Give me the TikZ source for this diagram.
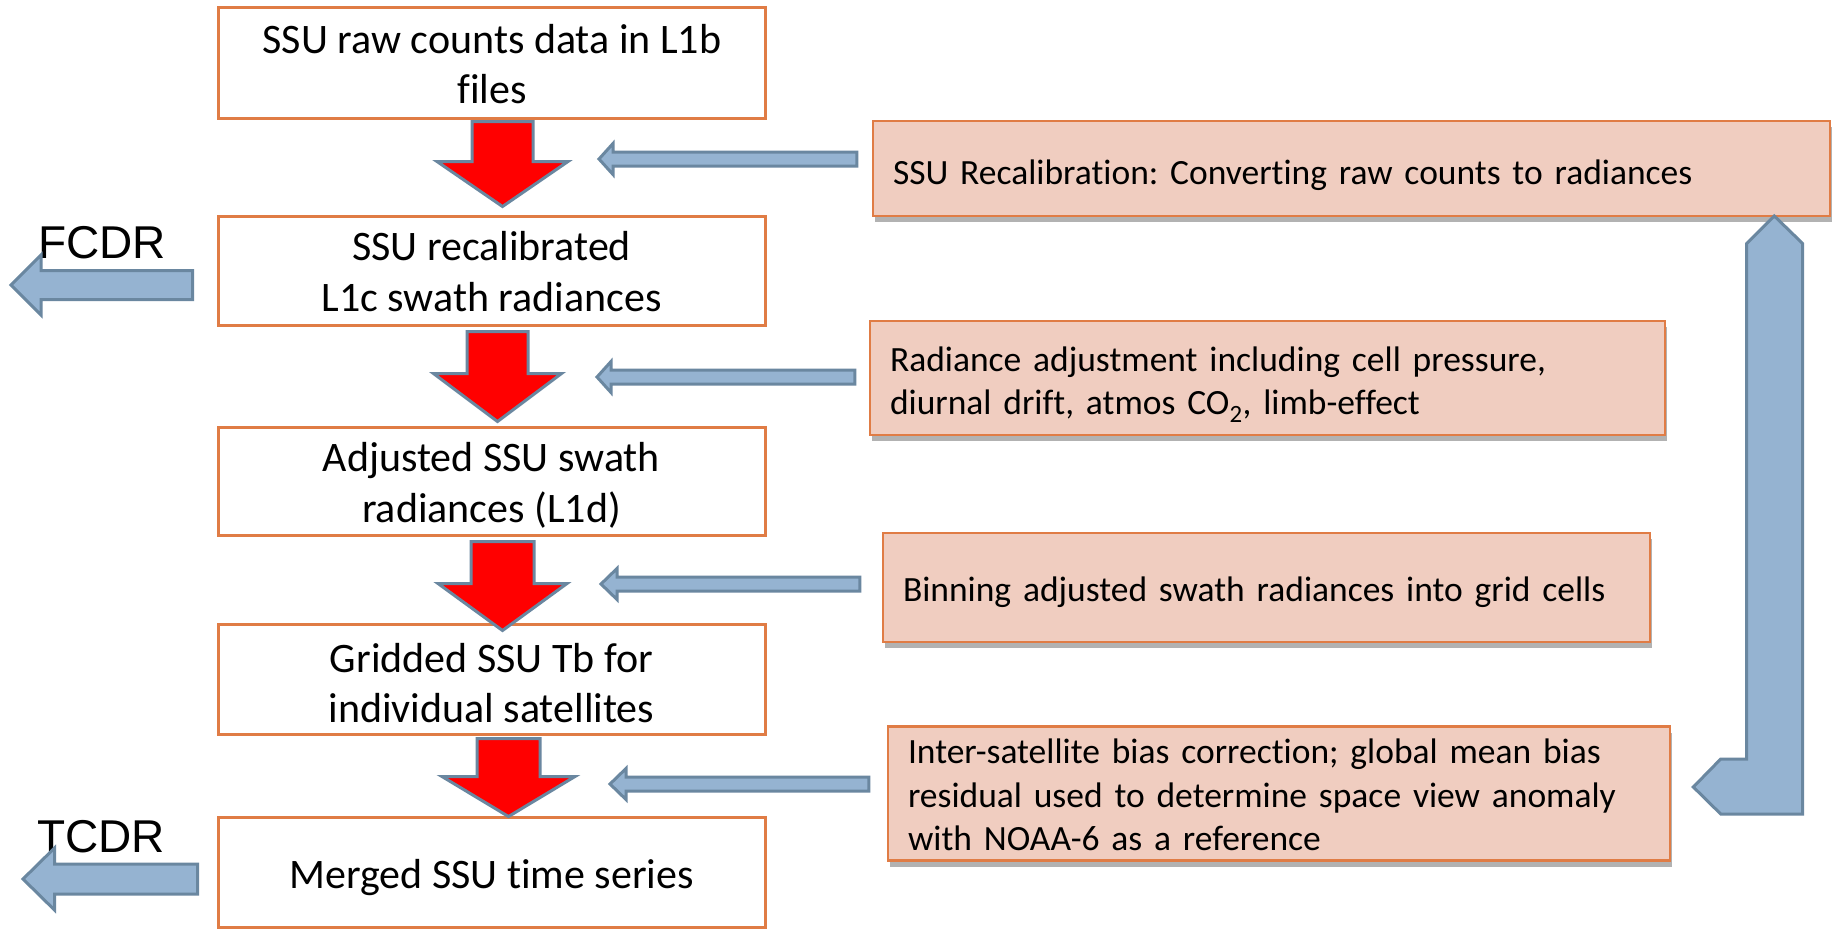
\documentclass[tikz,border=0pt]{standalone}
\usepackage{fontspec}
\setmainfont{Carlito}[Ligatures=NoCommon]
\newfontfamily\labelfont{Liberation Sans}
\usetikzlibrary{calc,shadows}
\frenchspacing

\definecolor{boxorange}{RGB}{224,124,69}
\definecolor{notepink}{RGB}{240,205,192}
\definecolor{arrowblue}{RGB}{149,179,209}
\definecolor{arrowedge}{RGB}{106,135,160}
\definecolor{flowred}{RGB}{255,0,0}

% invisible struts fixing the height of a first line and the depth of a last line
\newcommand\hstrut[1]{\rule{0pt}{#1pt}}
\newcommand\dstrut[1]{\rule[-#1pt]{0pt}{#1pt}}

\tikzset{
  stage/.style={draw=boxorange, line width=3pt, fill=white, minimum width=547pt,
    align=center, inner sep=0pt, font=\fontsize{42}{50.5}\selectfont},
  note/.style={draw=boxorange, line width=2.5pt, fill=notepink, align=left,
    inner xsep=20pt, inner ysep=0pt, font=\fontsize{35.5}{43.5}\selectfont,
    drop shadow={shadow xshift=2pt, shadow yshift=-6pt, fill=black, opacity=0.3}},
  flowarrow/.style={fill=flowred, draw=arrowedge, line width=3pt, line join=miter},
  feedarrow/.style={fill=arrowblue, draw=arrowedge, line width=3pt, line join=miter},
  outlabel/.style={font=\labelfont\fontsize{46}{46}\selectfont, inner sep=0pt, anchor=base west},
}

% block arrow pointing down: top centre, tip, shaft half width, head half width, head length
\newcommand\downblock[5]{%
  \filldraw[flowarrow] ($(#1)+(-#3,0)$) -- ($(#1)+(#3,0)$) -- ($(#2)+(#3,-#5)$)
    -- ($(#2)+(#4,-#5)$) -- (#2) -- ($(#2)+(-#4,-#5)$) -- ($(#2)+(-#3,-#5)$) -- cycle;}
% block arrow pointing left: tail centre, tip, shaft half height, head half height, head length
\newcommand\leftblock[5]{%
  \filldraw[feedarrow] ($(#1)+(0,-#3)$) -- ($(#2)+(#5,-#3)$) -- ($(#2)+(#5,-#4)$)
    -- (#2) -- ($(#2)+(#5,#4)$) -- ($(#2)+(#5,#3)$) -- ($(#1)+(0,#3)$) -- cycle;}

\begin{document}
\begin{tikzpicture}[x=1pt,y=-1pt]
\useasboundingbox[fill=white] (0,0) rectangle (1843,930);

% processing chain
\node[stage, minimum height=110.5pt] (b1) at (492,62.75)
  {\hstrut{41.4}SSU raw counts data in L1b\\files\dstrut{10}};
\node[stage, minimum height=109pt] (b2) at (491.5,270.5)
  {\hstrut{41.1}SSU recalibrated\\L1c swath radiances\dstrut{10}};
\node[stage, minimum height=108pt] (b3) at (491.5,481)
  {\hstrut{41.5}Adjusted SSU swath\\radiances (L1d)\dstrut{10}};
\node[stage, minimum height=110pt] (b4) at (491.5,679)
  {\hstrut{46.9}Gridded SSU Tb for\\individual satellites\dstrut{10}};
\node[stage, minimum height=110pt] (b5) at (491.5,872)
  {\hstrut{46.4}Merged SSU time series\dstrut{14}};

% processing steps
\node[note, minimum width=957pt, minimum height=95pt, text width=917pt] (p1) at (1351.5,168.5)
  {\hstrut{41}SSU Recalibration: Converting raw counts to radiances\dstrut{10}};
\node[note, minimum width=795pt, minimum height=114pt, text width=755pt] (p2) at (1267.5,378)
  {\hstrut{39.5}Radiance adjustment including cell pressure,\\diurnal drift, atmos CO\textsubscript{2}, limb-effect\dstrut{10}};
\node[note, minimum width=767pt, minimum height=109pt, text width=727pt] (p3) at (1266.5,587.5)
  {\hstrut{37.5}Binning adjusted swath radiances into grid cells\dstrut{10}};
\node[note, minimum width=782pt, minimum height=131pt, text width=742pt] (p4) at (1279,793.5)
  {\hstrut{37}Inter-satellite bias correction; global mean bias\\residual used to determine space view anomaly\\with NOAA-6 as a reference\dstrut{10}};

% data record labels
\node[outlabel] (fcdr) at (38,258) {FCDR};
\node[outlabel] (tcdr) at (37,852) {TCDR};

% arrows between the stages
\coordinate (r1a) at ($(b1.south)+(10.5,2)$);  \coordinate (r1b) at ($(b2.north)+(11,-8)$);
\coordinate (r2a) at ($(b2.south)+(6,5)$);     \coordinate (r2b) at ($(b3.north)+(6,-4)$);
\coordinate (r3a) at ($(b3.south)+(11,5)$);    \coordinate (r3b) at ($(b4.north)+(11,8)$);
\coordinate (r4a) at ($(b4.south)+(17,3)$);    \coordinate (r4b) at ($(b5.north)+(17,1)$);
\downblock{r1a}{r1b}{30.5}{65.5}{45}
\downblock{r2a}{r2b}{30.5}{64}{48}
\downblock{r3a}{r3b}{31.5}{64.5}{47}
\downblock{r4a}{r4b}{31.5}{66.5}{40}

% arrows from the steps into the chain
\coordinate (s1a) at ($(p1.west)+(-15,-9.5)$); \coordinate (s1b) at (599,159);
\coordinate (s2a) at ($(p2.west)+(-14,-1)$);   \coordinate (s2b) at (597,377);
\coordinate (s3a) at ($(p3.west)+(-22,-3.5)$); \coordinate (s3b) at (601,584);
\coordinate (s4a) at ($(p4.west)+(-18,-9.5)$); \coordinate (s4b) at (610,784);
\leftblock{s1a}{s1b}{7}{15.5}{14}
\leftblock{s2a}{s2b}{7}{15.5}{14}
\leftblock{s3a}{s3b}{7}{15.5}{16}
\leftblock{s4a}{s4b}{7}{15.5}{16}

% outputs of the chain
\coordinate (f1a) at ($(b2.west)+(-24,14.5)$); \coordinate (f1b) at (11,285);
\coordinate (t1a) at ($(b5.west)+(-19,7)$);    \coordinate (t1b) at (23,879);
\leftblock{f1a}{f1b}{14.5}{30}{30}
\leftblock{t1a}{t1b}{15}{31}{31.5}

% feedback from the bias correction to the recalibration
\filldraw[feedarrow] (1774.3,216) -- (1802.7,243.6) -- (1802.7,814) -- (1720.7,814)
  -- (1693.3,787) -- (1720.7,759) -- (1746.7,759) -- (1746.7,243.6) -- cycle;
\end{tikzpicture}
\end{document}
